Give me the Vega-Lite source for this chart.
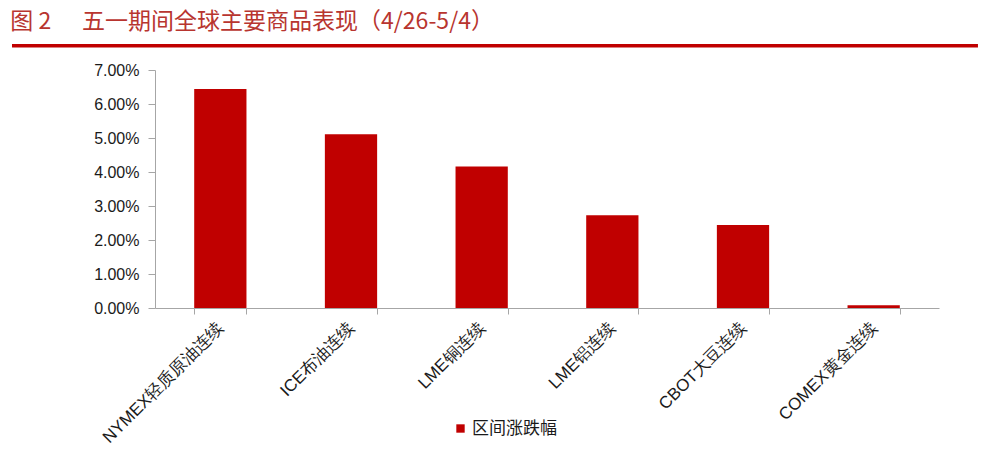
{
  "$schema": "https://vega.github.io/schema/vega-lite/v6.json",
  "autosize": "none",
  "width": 784,
  "height": 238,
  "padding": {"left": 155, "top": 70, "right": 47, "bottom": 147},
  "background": "white",
  "title": {
    "text": "图 2\u00a0\u00a0\u00a0\u00a0\u00a0\u00a0五一期间全球主要商品表现（4/26-5/4）",
    "anchor": "start",
    "frame": "bounds",
    "font": "Noto Sans CJK SC",
    "fontSize": 23,
    "fontWeight": "normal",
    "color": "#b8352f",
    "offset": 10
  },
  "config": {
    "view": {"stroke": null},
    "axis": {"grid": false}
  },
  "data": {
    "values": [
      {"commodity": "NYMEX轻质原油连续", "change": 0.0644, "series": "区间涨跌幅"},
      {"commodity": "ICE布油连续", "change": 0.0511, "series": "区间涨跌幅"},
      {"commodity": "LME铜连续", "change": 0.0416, "series": "区间涨跌幅"},
      {"commodity": "LME铝连续", "change": 0.0273, "series": "区间涨跌幅"},
      {"commodity": "CBOT大豆连续", "change": 0.0244, "series": "区间涨跌幅"},
      {"commodity": "COMEX黄金连续", "change": 0.0008, "series": "区间涨跌幅"}
    ]
  },
  "resolve": {"scale": {"x": "independent"}},
  "layer": [
    {
      "mark": {"type": "bar", "color": "#c00000"},
      "encoding": {
        "x": {
          "field": "commodity",
          "type": "nominal",
          "sort": null,
          "title": null,
          "scale": {"paddingInner": 0.6, "paddingOuter": 0.3},
          "axis": {
            "labelAngle": -45,
            "labelAlign": "right",
            "labelBaseline": "middle",
            "labelFont": "Liberation Sans",
            "labelFontSize": 17,
            "labelColor": "#1a1a1a",
            "labelPadding": 11,
            "labelOverlap": false,
            "tickBand": "extent",
            "tickSize": 6,
            "tickColor": "#a6a6a6",
            "domainColor": "#a6a6a6",
            "labelLimit": 300
          }
        },
        "y": {
          "field": "change",
          "type": "quantitative",
          "title": null,
          "scale": {"domain": [0, 0.07], "nice": false},
          "axis": {
            "format": ".2%",
            "values": [0, 0.01, 0.02, 0.03, 0.04, 0.05, 0.06, 0.07],
            "tickCount": 8,
            "labelOverlap": false,
            "labelFont": "Liberation Sans",
            "labelFontSize": 16,
            "labelColor": "#1a1a1a",
            "labelPadding": 9,
            "tickSize": 7,
            "tickColor": "#a6a6a6",
            "domainColor": "#a6a6a6"
          }
        },
        "color": {
          "field": "series",
          "type": "nominal",
          "title": null,
          "scale": {"range": ["#c00000"]},
          "legend": {
            "orient": "none",
            "legendX": 297,
            "legendY": 350,
            "symbolType": "square",
            "symbolSize": 70,
            "symbolStrokeWidth": 0,
            "labelFont": "Noto Sans CJK SC",
            "labelFontSize": 17,
            "labelColor": "#1a1a1a",
            "labelOffset": 3,
            "padding": 0
          }
        }
      }
    },
    {
      "data": {"values": [{}]},
      "mark": {"type": "rule", "color": "#c00000", "strokeWidth": 3.5, "clip": false},
      "encoding": {
        "x": {"datum": -0.1824, "type": "quantitative", "scale": {"domain": [0, 1], "nice": false, "zero": false}, "axis": null},
        "x2": {"datum": 1.0497},
        "y": {
          "datum": 0.0771,
          "type": "quantitative",
          "title": null,
          "axis": {
            "format": ".2%",
            "values": [0, 0.01, 0.02, 0.03, 0.04, 0.05, 0.06, 0.07],
            "tickCount": 8,
            "labelOverlap": false,
            "labelFont": "Liberation Sans",
            "labelFontSize": 16,
            "labelColor": "#1a1a1a",
            "labelPadding": 9,
            "tickSize": 7,
            "tickColor": "#a6a6a6",
            "domainColor": "#a6a6a6"
          }
        }
      }
    }
  ]
}
